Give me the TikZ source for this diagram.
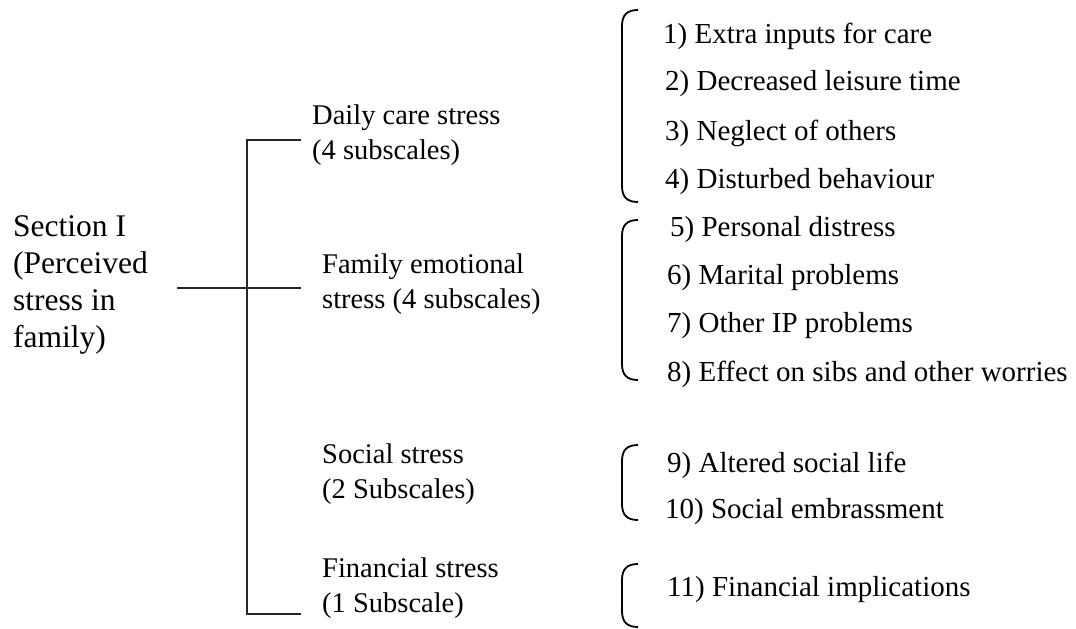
\documentclass[tikz,border=0pt]{standalone}
\usepackage{fontspec}
\setmainfont{Liberation Serif}
\begin{document}
\begin{tikzpicture}[x=1bp,y=-1bp,
  secstyle/.style={font=\fontsize{31.5bp}{37bp}\selectfont, align=left, anchor=west, inner sep=0pt},
  midstyle/.style={font=\fontsize{28.5bp}{35bp}\selectfont, align=left, anchor=west, inner sep=0pt},
  itemstyle/.style={font=\fontsize{29bp}{35bp}\selectfont, anchor=west, inner sep=0pt},
  treeline/.style={line width=1.5bp, black!85},
  bracketline/.style={line width=1.8bp, black}]
\useasboundingbox (0,0) rectangle (1076,629);
% labels
\node[secstyle] (sec) at (13,285) {Section I\\(Perceived\\stress in\\family)};
\node[midstyle] (daily) at (312,135) {Daily care stress\\(4 subscales)};
\node[midstyle] (fam) at (322,284) {Family emotional\\stress (4 subscales)};
\node[midstyle] (soc) at (322,474) {Social stress\\(2 Subscales)};
\node[midstyle] (fin) at (322,588) {Financial stress\\(1 Subscale)};
% items
\node[itemstyle] (i1) at (663,36) {1) Extra inputs for care};
\node[itemstyle] (i2) at (665,84) {2) Decreased leisure time};
\node[itemstyle] (i3) at (665,133) {3) Neglect of others};
\node[itemstyle] (i4) at (665,182) {4) Disturbed behaviour};
\node[itemstyle] (i5) at (670,230) {5) Personal distress};
\node[itemstyle] (i6) at (667,278) {6) Marital problems};
\node[itemstyle] (i7) at (667,326) {7) Other IP problems};
\node[itemstyle] (i8) at (667,374) {8) Effect on sibs and other worries};
\node[itemstyle] (i9) at (667,465) {9) Altered social life};
\node[itemstyle] (i10) at (665,512) {10) Social embrassment};
\node[itemstyle] (i11) at (667,590) {11) Financial implications};
% tree
\coordinate (root) at (177,288);
\coordinate (jn) at (247,288);
\coordinate (tl) at (247,140);
\coordinate (bl) at (247,614);
\coordinate (tr) at (301,140);
\coordinate (mr) at (301,288);
\coordinate (br) at (301,614);
\draw[treeline] (tr) -- (tl) -- (bl) -- (br);
\draw[treeline] (root) -- (jn) -- (mr);
% brackets
\foreach \t/\b in {10/202, 220/380, 445/520, 564/627}{
  \draw[bracketline] (638,\t) .. controls (627,\t) and (622,\t+5) .. (622,\t+16)
     -- (622,\b-16) .. controls (622,\b-5) and (627,\b) .. (638,\b);
}
\end{tikzpicture}
\end{document}
